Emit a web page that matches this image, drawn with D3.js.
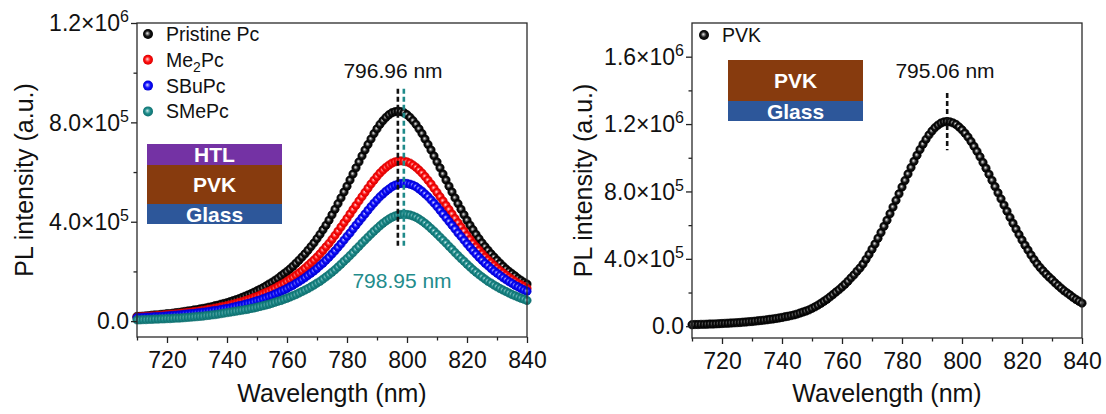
<!DOCTYPE html>
<html>
<head>
<meta charset="utf-8">
<title>PL spectra</title>
<script src="https://d3js.org/d3.v7.min.js"></script>
<style>
  body { margin: 0; background: #fff; }
  svg text { font-family: "Liberation Sans", Arial, sans-serif; fill: #111; }
</style>
</head>
<body>
<div id="chart"></div>
<script>
  // wavelength grid, 1 nm steps
  var wavelengthNm = d3.range(710, 841);

  // PL intensity, in units of 10^4 a.u.
  var pristinePc = [
    1.9, 1.9, 2.0, 2.1, 2.2, 2.4, 2.5, 2.5, 2.7, 2.8,
    3.0, 3.0, 3.2, 3.4, 3.5, 3.7, 3.9, 4.1, 4.2, 4.5,
    4.6, 4.9, 5.1, 5.3, 5.6, 5.8, 6.2, 6.4, 6.8, 7.1,
    7.4, 7.8, 8.2, 8.6, 9.0, 9.5, 10.0, 10.5, 11.0, 11.6,
    12.2, 12.8, 13.4, 14.1, 14.9, 15.6, 16.4, 17.2, 18.2, 19.1,
    20.0, 21.0, 22.1, 23.3, 24.5, 25.8, 27.1, 28.5, 30.0, 31.5,
    33.2, 34.9, 36.8, 38.6, 40.6, 42.8, 45.0, 47.3, 49.6, 52.0,
    54.3, 56.8, 59.2, 61.7, 64.1, 66.5, 68.9, 71.1, 73.3, 75.5,
    77.4, 79.2, 80.7, 82.0, 83.1, 83.9, 84.3, 84.5,
    84.3, 83.9, 83.1, 82.0, 80.7, 79.2, 77.4, 75.5, 73.3, 71.1,
    68.9, 66.5, 64.1, 61.7, 59.2, 56.8, 54.3, 52.0, 49.6, 47.3,
    45.0, 42.8, 40.6, 38.6, 36.8, 34.9, 33.2, 31.5, 30.0, 28.5,
    27.1, 25.8, 24.5, 23.3, 22.1, 21.0, 20.0, 19.1, 18.2, 17.2,
    16.4, 15.6, 14.9
  ];
  var me2Pc = [
    1.6, 1.7, 1.8, 1.9, 1.9, 2.1, 2.1, 2.3, 2.3, 2.5,
    2.6, 2.7, 2.8, 2.9, 3.0, 3.2, 3.3, 3.5, 3.6, 3.8,
    3.9, 4.1, 4.3, 4.5, 4.8, 4.9, 5.2, 5.4, 5.7, 5.9,
    6.2, 6.5, 6.8, 7.1, 7.5, 7.8, 8.2, 8.6, 9.0, 9.5,
    9.9, 10.4, 11.0, 11.5, 12.0, 12.6, 13.2, 13.9, 14.6, 15.2,
    16.0, 16.8, 17.6, 18.5, 19.4, 20.3, 21.3, 22.4, 23.5, 24.6,
    25.8, 27.1, 28.5, 29.9, 31.3, 32.9, 34.5, 36.2, 37.9, 39.6,
    41.3, 43.1, 44.9, 46.6, 48.4, 50.1, 51.8, 53.5, 55.2, 56.7,
    58.2, 59.6, 60.8, 61.9, 62.8, 63.6, 64.1, 64.4, 64.5,
    64.4, 64.1, 63.6, 62.8, 61.9, 60.8, 59.6, 58.2, 56.7, 55.2,
    53.5, 51.8, 50.1, 48.4, 46.6, 44.9, 43.1, 41.3, 39.6, 37.9,
    36.2, 34.5, 32.9, 31.3, 29.9, 28.5, 27.1, 25.8, 24.6, 23.5,
    22.4, 21.3, 20.3, 19.4, 18.5, 17.6, 16.8, 16.0, 15.2, 14.6,
    13.9, 13.2
  ];
  var sbuPc = [
    1.4, 1.4, 1.5, 1.6, 1.6, 1.7, 1.8, 1.8, 1.9, 2.0,
    2.1, 2.2, 2.3, 2.4, 2.5, 2.6, 2.8, 2.9, 3.0, 3.1,
    3.3, 3.4, 3.6, 3.7, 3.9, 4.1, 4.3, 4.4, 4.7, 4.9,
    5.1, 5.3, 5.6, 5.9, 6.2, 6.4, 6.8, 7.1, 7.4, 7.8,
    8.2, 8.5, 9.0, 9.4, 9.9, 10.3, 10.9, 11.4, 12.0, 12.5,
    13.1, 13.8, 14.4, 15.2, 15.9, 16.7, 17.5, 18.4, 19.3, 20.2,
    21.2, 22.3, 23.3, 24.5, 25.7, 27.0, 28.3, 29.7, 31.1, 32.6,
    34.1, 35.5, 37.1, 38.6, 40.1, 41.6, 43.1, 44.6, 46.1, 47.5,
    48.8, 50.1, 51.2, 52.3, 53.2, 54.1, 54.7, 55.1, 55.4, 55.5,
    55.4, 55.1, 54.7, 54.1, 53.2, 52.3, 51.2, 50.1, 48.8, 47.5,
    46.1, 44.6, 43.1, 41.6, 40.1, 38.6, 37.1, 35.5, 34.1, 32.6,
    31.1, 29.7, 28.3, 27.0, 25.7, 24.5, 23.3, 22.3, 21.2, 20.2,
    19.3, 18.4, 17.5, 16.7, 15.9, 15.2, 14.4, 13.8, 13.1, 12.5,
    12.0
  ];
  var smePc = [
    0.5, 0.5, 0.6, 0.6, 0.7, 0.7, 0.8, 0.8, 0.9, 0.9,
    1.0, 1.0, 1.1, 1.2, 1.2, 1.3, 1.4, 1.5, 1.6, 1.7,
    1.8, 1.9, 2.0, 2.2, 2.3, 2.5, 2.6, 2.8, 3.0, 3.2,
    3.4, 3.6, 3.8, 4.0, 4.2, 4.4, 4.6, 4.8, 5.1, 5.3,
    5.6, 5.9, 6.2, 6.5, 6.8, 7.2, 7.6, 8.0, 8.3, 8.8,
    9.2, 9.7, 10.2, 10.7, 11.3, 11.9, 12.5, 13.1, 13.8, 14.5,
    15.3, 16.0, 16.9, 17.8, 18.7, 19.7, 20.7, 21.8, 22.9, 24.1,
    25.2, 26.4, 27.6, 28.9, 30.1, 31.4, 32.6, 33.8, 35.0, 36.2,
    37.3, 38.4, 39.4, 40.3, 41.1, 41.8, 42.3, 42.7, 42.9, 43.0,
    42.9, 42.7, 42.3, 41.8, 41.1, 40.3, 39.4, 38.4, 37.3, 36.2,
    35.0, 33.8, 32.6, 31.4, 30.1, 28.9, 27.6, 26.4, 25.2, 24.1,
    22.9, 21.8, 20.7, 19.7, 18.7, 17.8, 16.9, 16.0, 15.3, 14.5,
    13.8, 13.1, 12.5, 11.9, 11.3, 10.7, 10.2, 9.7, 9.2, 8.8,
    8.3
  ];
  var pvkOnly = [
    0.9, 1.0, 1.0, 1.1, 1.1, 1.2, 1.3, 1.3, 1.4, 1.5,
    1.6, 1.7, 1.8, 1.9, 2.0, 2.1, 2.2, 2.4, 2.5, 2.7,
    2.8, 3.0, 3.2, 3.4, 3.6, 3.8, 4.1, 4.3, 4.6, 4.9,
    5.2, 5.6, 5.9, 6.3, 6.7, 7.2, 7.8, 8.4, 9.0, 9.7,
    10.6, 11.5, 12.5, 13.6, 14.8, 16.0, 17.4, 18.8, 20.3, 21.7,
    23.3, 24.9, 26.7, 28.7, 30.5, 32.6, 34.6, 36.9, 39.7, 42.6,
    45.7, 48.8, 52.2, 55.6, 59.3, 62.9, 66.8, 70.7, 74.7, 78.6,
    82.6, 86.5, 90.4, 94.2, 97.9, 101.5, 104.9, 108.0, 110.9, 113.6,
    115.9, 117.9, 119.4, 120.6, 121.3, 121.5,
    121.3, 120.7, 119.8, 118.3, 116.6, 114.6, 112.3, 109.7, 106.8, 103.8,
    100.6, 97.2, 93.8, 90.2, 86.6, 82.9, 79.2, 75.6, 71.9, 68.3,
    64.6, 61.1, 57.7, 54.4, 51.2, 48.1, 45.2, 42.3, 39.6, 37.1,
    34.9, 32.9, 31.0, 29.2, 27.6, 25.8, 24.2, 22.6, 21.1, 19.8,
    18.5, 17.1, 15.9, 14.8, 13.7
  ];

  var xTicks = [720, 740, 760, 780, 800, 820, 840];
  var xMinorTicks = [710, 730, 750, 770, 790, 810, 830];
  var leftYTicks = [0, 4e5, 8e5, 1.2e6];
  var leftYLabels = [['0.0', ''], ['4.0×10', '5'], ['8.0×10', '5'], ['1.2×10', '6']];
  var leftYMinor = [2e5, 6e5, 1e6];
  var rightYTicks = [0, 4e5, 8e5, 1.2e6, 1.6e6];
  var rightYLabels = [['0.0', ''], ['4.0×10', '5'], ['8.0×10', '5'], ['1.2×10', '6'], ['1.6×10', '6']];
  var rightYMinor = [2e5, 6e5, 1e6, 1.4e6];

  var leftNames = [['Pristine Pc', ''], ['Me', '2', 'Pc'], ['SBuPc', ''], ['SMePc', '']];
  var leftPeaks = [796.96, 798.95];
  var rightPeak = 795.06;

  var svg = d3.select('#chart').append('svg')
      .attr('width', 1106)
      .attr('height', 414);

  // sphere-like marker fills
  var palette = {
    black: ['#eeeeee', '#8a8a8a', '#141414', '#000000'],
    red:   ['#ffe0e0', '#ff7a7a', '#ff0e0e', '#dc0000'],
    blue:  ['#e0e0ff', '#7a7aff', '#0e0eff', '#0000d2'],
    teal:  ['#ddf2f2', '#78bebe', '#1d8b8a', '#0f7070']
  };
  var defs = svg.append('defs');
  Object.keys(palette).forEach(function(k) {
    var grad = defs.append('radialGradient')
        .attr('id', 'ball-' + k)
        .attr('cx', '50%').attr('cy', '50%').attr('r', '50%')
        .attr('fx', '42%').attr('fy', '42%');
    [0, 0.24, 0.55, 1].forEach(function(o, i) {
      grad.append('stop').attr('offset', o).attr('stop-color', palette[k][i]);
    });
  });

  function drawFrame(p, x, y, yTicks, yLabels, yMinor) {
    var g = svg.append('g');

    var xMajor = g.append('g')
        .attr('transform', 'translate(0,' + p.y1 + ')')
        .call(d3.axisBottom(x).tickValues(xTicks).tickSize(6).tickSizeOuter(0).tickPadding(9).tickFormat(d3.format('d')));
    var xMinor = g.append('g')
        .attr('transform', 'translate(0,' + p.y1 + ')')
        .call(d3.axisBottom(x).tickValues(xMinorTicks).tickSize(3.5).tickSizeOuter(0).tickFormat(''));
    var yMajor = g.append('g')
        .attr('transform', 'translate(' + p.x0 + ',0)')
        .call(d3.axisLeft(y).tickValues(yTicks).tickSize(6).tickSizeOuter(0).tickFormat(''));
    var yMin = g.append('g')
        .attr('transform', 'translate(' + p.x0 + ',0)')
        .call(d3.axisLeft(y).tickValues(yMinor).tickSize(3.5).tickSizeOuter(0).tickFormat(''));

    [xMajor, xMinor, yMajor, yMin].forEach(function(a) {
      a.select('.domain').remove();
      a.selectAll('line').attr('stroke', '#222').attr('stroke-width', 1.3);
    });
    xMajor.selectAll('text')
        .attr('font-size', 23)
        .attr('font-family', '"Liberation Sans", Arial, sans-serif')
        .attr('fill', '#111');

    g.append('rect')
        .attr('x', p.x0).attr('y', p.y0)
        .attr('width', p.x1 - p.x0).attr('height', p.y1 - p.y0)
        .attr('fill', 'none').attr('stroke', '#2a2a2a').attr('stroke-width', 1.3);

    // y tick labels with exponents
    yTicks.forEach(function(v, i) {
      var t = g.append('text')
          .attr('x', p.x0 - 8)
          .attr('y', y(v))
          .attr('dy', '0.36em')
          .attr('text-anchor', 'end')
          .attr('font-size', 23);
      t.append('tspan').text(yLabels[i][0]);
      if (yLabels[i][1]) {
        t.append('tspan').attr('dy', -9).attr('font-size', 16).text(yLabels[i][1]);
      }
    });

    svg.append('text')
        .attr('transform', 'translate(' + p.titleX + ',' + ((p.y0 + p.y1) / 2) + ') rotate(-90)')
        .attr('text-anchor', 'middle')
        .attr('font-size', 25)
        .text('PL intensity (a.u.)');
    svg.append('text')
        .attr('x', (p.x0 + p.x1) / 2)
        .attr('y', 402)
        .attr('text-anchor', 'middle')
        .attr('font-size', 25)
        .text('Wavelength (nm)');
  }

  function drawSeries(x, y, values, key) {
    svg.append('g').selectAll('circle')
        .data(values)
        .enter()
        .append('circle')
          .attr('cx', function(d, i) { return x(wavelengthNm[i]); })
          .attr('cy', function(d) { return y(d * 1e4); })
          .attr('r', 4.2)
          .attr('fill', 'url(#ball-' + key + ')')
          .attr('stroke', palette[key][3])
          .attr('stroke-width', 0.6);
  }

  function drawStack(x0, y0, w, layers) {
    var yy = y0;
    layers.forEach(function(l) {
      svg.append('rect')
          .attr('x', x0).attr('y', yy)
          .attr('width', w).attr('height', l.h)
          .attr('fill', l.color);
      svg.append('text')
          .attr('x', x0 + w / 2)
          .attr('y', yy + l.h / 2)
          .attr('dy', '0.36em')
          .attr('text-anchor', 'middle')
          .attr('font-size', 21)
          .attr('font-weight', 'bold')
          .style('fill', '#fff')
          .text(l.name);
      yy += l.h;
    });
  }

  function dashed(x, y, nm, v0, v1, color) {
    svg.append('line')
        .attr('x1', x(nm)).attr('x2', x(nm))
        .attr('y1', y(v0)).attr('y2', y(v1))
        .attr('stroke', color)
        .attr('stroke-width', 2.6)
        .attr('stroke-dasharray', '5,3');
  }

  // ---- left panel ----
  var pL = {x0: 137, x1: 527, y0: 23, y1: 337, titleX: 33};
  var xL = d3.scaleLinear().domain([710, 840]).range([pL.x0, pL.x1]);
  var yL = d3.scaleLinear().domain([-6.4e4, 1.2e6]).range([pL.y1, pL.y0]);

  drawSeries(xL, yL, pristinePc, 'black');
  drawSeries(xL, yL, me2Pc, 'red');
  drawSeries(xL, yL, sbuPc, 'blue');
  drawSeries(xL, yL, smePc, 'teal');
  drawFrame(pL, xL, yL, leftYTicks, leftYLabels, leftYMinor);

  dashed(xL, yL, leftPeaks[0], 9.35e5, 2.95e5, '#111');
  dashed(xL, yL, leftPeaks[1], 9.35e5, 2.95e5, '#1f8a8a');

  svg.append('text')
      .attr('x', 393).attr('y', 78)
      .attr('text-anchor', 'middle')
      .attr('font-size', 21)
      .text(leftPeaks[0].toFixed(2) + ' nm');
  svg.append('text')
      .attr('x', 402).attr('y', 288)
      .attr('text-anchor', 'middle')
      .attr('font-size', 21)
      .style('fill', '#238c8c')
      .text(leftPeaks[1].toFixed(2) + ' nm');

  var legKeys = ['black', 'red', 'blue', 'teal'];
  leftNames.forEach(function(n, i) {
    var ly = 34 + i * 25.8;
    svg.append('circle')
        .attr('cx', 148).attr('cy', ly).attr('r', 5)
        .attr('fill', 'url(#ball-' + legKeys[i] + ')');
    var t = svg.append('text')
        .attr('x', 166).attr('y', ly)
        .attr('dy', '0.36em')
        .attr('font-size', 19.5);
    t.append('tspan').text(n[0]);
    if (n.length === 3) {
      t.append('tspan').attr('dy', 5).attr('font-size', 14).text(n[1]);
      t.append('tspan').attr('dy', -5).text(n[2]);
    }
  });

  drawStack(147, 144, 135, [
    {name: 'HTL', h: 21, color: '#7432a4'},
    {name: 'PVK', h: 39, color: '#873b0e'},
    {name: 'Glass', h: 20, color: '#2d579a'}
  ]);

  // ---- right panel ----
  var pR = {x0: 692, x1: 1082, y0: 23, y1: 338, titleX: 592};
  var xR = d3.scaleLinear().domain([710, 840]).range([pR.x0, pR.x1]);
  var yR = d3.scaleLinear().domain([-7e4, 1.8e6]).range([pR.y1, pR.y0]);

  drawSeries(xR, yR, pvkOnly, 'black');
  drawFrame(pR, xR, yR, rightYTicks, rightYLabels, rightYMinor);
  dashed(xR, yR, rightPeak, 13.85e5, 10.45e5, '#111');

  svg.append('text')
      .attr('x', 945).attr('y', 78)
      .attr('text-anchor', 'middle')
      .attr('font-size', 21)
      .text(rightPeak.toFixed(2) + ' nm');

  svg.append('circle')
      .attr('cx', 704).attr('cy', 35).attr('r', 5)
      .attr('fill', 'url(#ball-black)');
  svg.append('text')
      .attr('x', 722).attr('y', 35)
      .attr('dy', '0.36em')
      .attr('font-size', 19.5)
      .text('PVK');

  drawStack(728, 60, 135, [
    {name: 'PVK', h: 41, color: '#873b0e'},
    {name: 'Glass', h: 20, color: '#2d579a'}
  ]);
</script>
</body>
</html>
